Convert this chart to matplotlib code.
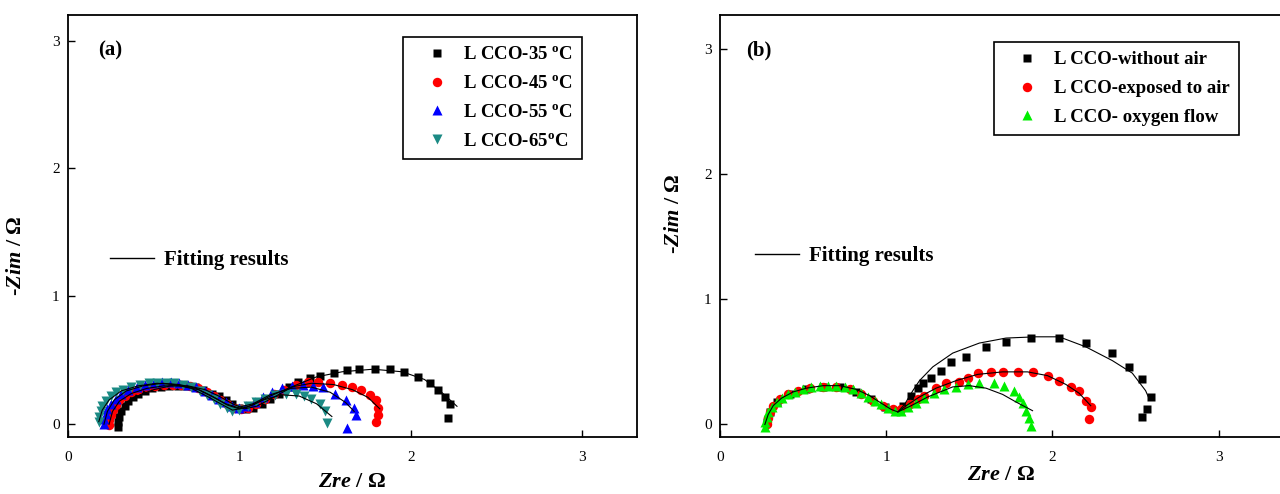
import matplotlib
matplotlib.use("Agg")
import matplotlib.pyplot as plt
from matplotlib.lines import Line2D

plt.rcParams['font.family'] = ['Liberation Serif', 'DejaVu Serif']
plt.rcParams['mathtext.fontset'] = 'custom'
plt.rcParams['mathtext.rm'] = 'Liberation Serif'
plt.rcParams['mathtext.bf'] = 'Liberation Serif:bold'
plt.rcParams['mathtext.it'] = 'Liberation Serif:italic'
plt.rcParams['mathtext.bfit'] = 'Liberation Serif:italic:bold'

# ---------------- panel (a): temperature ----------------
a35_re = [0.29, 0.29, 0.30, 0.31, 0.33, 0.35, 0.38, 0.41, 0.45, 0.49, 0.54, 0.59, 0.64, 0.69, 0.74, 0.79, 0.84,
          0.88, 0.92, 0.96, 1.00, 1.04, 1.08, 1.13, 1.18, 1.23, 1.29, 1.34, 1.41, 1.47, 1.55, 1.63, 1.70, 1.79,
          1.88, 1.96, 2.04, 2.11, 2.16, 2.20, 2.23, 2.22]
a35_im = [-0.02, 0.02, 0.06, 0.10, 0.14, 0.18, 0.21, 0.24, 0.26, 0.28, 0.29, 0.30, 0.30, 0.30, 0.29, 0.27, 0.24,
          0.22, 0.19, 0.16, 0.13, 0.12, 0.13, 0.16, 0.20, 0.24, 0.29, 0.33, 0.36, 0.38, 0.40, 0.42, 0.43, 0.43,
          0.43, 0.41, 0.37, 0.32, 0.27, 0.21, 0.16, 0.05]

a45_re = [0.24, 0.24, 0.25, 0.26, 0.28, 0.30, 0.33, 0.37, 0.41, 0.46, 0.51, 0.56, 0.61, 0.66, 0.71, 0.76, 0.81,
          0.85, 0.89, 0.93, 0.97, 1.01, 1.05, 1.10, 1.15, 1.20, 1.26, 1.33, 1.40, 1.46, 1.53, 1.60, 1.66, 1.71,
          1.76, 1.80, 1.81, 1.81, 1.80]
a45_im = [-0.01, 0.03, 0.07, 0.11, 0.15, 0.19, 0.22, 0.25, 0.27, 0.29, 0.30, 0.31, 0.31, 0.31, 0.30, 0.28, 0.25,
          0.22, 0.19, 0.16, 0.13, 0.12, 0.13, 0.16, 0.20, 0.24, 0.27, 0.31, 0.33, 0.33, 0.32, 0.31, 0.29, 0.27,
          0.23, 0.19, 0.13, 0.07, 0.02]

a55_re = [0.21, 0.21, 0.22, 0.23, 0.25, 0.28, 0.31, 0.35, 0.40, 0.45, 0.50, 0.55, 0.60, 0.65, 0.70, 0.75, 0.80,
          0.84, 0.88, 0.92, 0.96, 1.00, 1.04, 1.09, 1.14, 1.19, 1.25, 1.31, 1.37, 1.43, 1.49, 1.56, 1.62, 1.67,
          1.68, 1.63]
a55_im = [0.00, 0.04, 0.08, 0.12, 0.16, 0.20, 0.24, 0.27, 0.29, 0.31, 0.32, 0.33, 0.33, 0.32, 0.31, 0.29, 0.26,
          0.23, 0.20, 0.17, 0.14, 0.13, 0.14, 0.17, 0.21, 0.25, 0.28, 0.30, 0.31, 0.30, 0.29, 0.24, 0.19, 0.13,
          0.07, -0.03]

a65_re = [0.18, 0.18, 0.19, 0.20, 0.22, 0.25, 0.28, 0.32, 0.37, 0.42, 0.47, 0.52, 0.57, 0.62, 0.67, 0.72, 0.77,
          0.81, 0.85, 0.89, 0.93, 0.96, 1.00, 1.05, 1.10, 1.15, 1.21, 1.27, 1.33, 1.38, 1.42, 1.47, 1.50, 1.51]
a65_im = [0.02, 0.06, 0.10, 0.14, 0.18, 0.22, 0.25, 0.27, 0.29, 0.31, 0.32, 0.32, 0.32, 0.32, 0.31, 0.29, 0.26,
          0.23, 0.20, 0.16, 0.13, 0.10, 0.11, 0.14, 0.17, 0.20, 0.23, 0.24, 0.24, 0.22, 0.20, 0.16, 0.10, 0.01]

fa35_re = [0.29, 0.31, 0.35, 0.42, 0.50, 0.60, 0.70, 0.80, 0.88, 0.96, 1.03, 1.10, 1.20, 1.32, 1.45, 1.60, 1.78,
           1.95, 2.08, 2.18, 2.27]
fa35_im = [0.00, 0.09, 0.17, 0.23, 0.27, 0.30, 0.30, 0.27, 0.22, 0.16, 0.12, 0.14, 0.21, 0.30, 0.37, 0.41, 0.43,
           0.41, 0.35, 0.25, 0.14]
fa45_re = [0.24, 0.26, 0.30, 0.37, 0.46, 0.56, 0.66, 0.76, 0.85, 0.93, 1.00, 1.08, 1.18, 1.30, 1.42, 1.55, 1.66,
           1.75, 1.82]
fa45_im = [0.00, 0.10, 0.18, 0.24, 0.28, 0.30, 0.30, 0.27, 0.21, 0.15, 0.12, 0.15, 0.22, 0.29, 0.32, 0.31, 0.27,
           0.21, 0.12]
fa55_re = [0.21, 0.23, 0.27, 0.34, 0.44, 0.55, 0.65, 0.75, 0.84, 0.92, 0.99, 1.08, 1.18, 1.30, 1.42, 1.53, 1.62,
           1.67]
fa55_im = [0.00, 0.10, 0.19, 0.26, 0.30, 0.32, 0.31, 0.28, 0.22, 0.16, 0.13, 0.16, 0.23, 0.28, 0.29, 0.25, 0.17,
           0.10]
fa65_re = [0.18, 0.20, 0.24, 0.31, 0.41, 0.52, 0.62, 0.72, 0.81, 0.89, 0.96, 1.04, 1.14, 1.25, 1.35, 1.45, 1.54]
fa65_im = [0.02, 0.11, 0.19, 0.26, 0.30, 0.32, 0.31, 0.28, 0.22, 0.16, 0.11, 0.13, 0.19, 0.23, 0.22, 0.16, 0.06]

# ---------------- panel (b): atmosphere ----------------
b_air0_re = [0.28, 0.30, 0.34, 0.42, 0.52, 0.62, 0.72, 0.82, 0.91, 0.99, 1.06, 1.10, 1.15, 1.19, 1.22, 1.27, 1.33,
             1.39, 1.48, 1.60, 1.72, 1.87, 2.04, 2.20, 2.36, 2.46, 2.54, 2.59, 2.57, 2.54]
b_air0_im = [0.02, 0.10, 0.18, 0.24, 0.28, 0.30, 0.30, 0.26, 0.20, 0.14, 0.11, 0.15, 0.23, 0.29, 0.33, 0.37, 0.43,
             0.50, 0.54, 0.62, 0.66, 0.69, 0.69, 0.65, 0.57, 0.46, 0.36, 0.22, 0.12, 0.06]

b_air_re = [0.28, 0.29, 0.30, 0.32, 0.36, 0.41, 0.47, 0.54, 0.62, 0.70, 0.78, 0.85, 0.92, 0.98, 1.04, 1.09, 1.14,
            1.19, 1.23, 1.30, 1.36, 1.44, 1.49, 1.55, 1.63, 1.70, 1.79, 1.88, 1.97, 2.04, 2.11, 2.16, 2.20, 2.23,
            2.22]
b_air_im = [0.00, 0.05, 0.10, 0.15, 0.20, 0.24, 0.27, 0.29, 0.30, 0.30, 0.28, 0.24, 0.19, 0.15, 0.12, 0.12, 0.16,
            0.20, 0.23, 0.29, 0.33, 0.34, 0.37, 0.41, 0.42, 0.42, 0.42, 0.42, 0.39, 0.35, 0.30, 0.27, 0.19, 0.14,
            0.04]

b_o2_re = [0.27, 0.27, 0.28, 0.29, 0.31, 0.34, 0.37, 0.41, 0.45, 0.50, 0.55, 0.60, 0.65, 0.70, 0.75, 0.80, 0.85,
           0.89, 0.93, 0.97, 1.01, 1.05, 1.09, 1.13, 1.18, 1.23, 1.29, 1.35, 1.42, 1.49, 1.56, 1.65, 1.71, 1.77,
           1.80, 1.82, 1.84, 1.86, 1.87]
b_o2_im = [-0.02, 0.02, 0.06, 0.10, 0.14, 0.18, 0.21, 0.24, 0.26, 0.28, 0.30, 0.31, 0.31, 0.31, 0.30, 0.28, 0.25,
           0.22, 0.19, 0.16, 0.13, 0.11, 0.11, 0.14, 0.17, 0.21, 0.25, 0.28, 0.30, 0.32, 0.33, 0.33, 0.31, 0.27,
           0.22, 0.17, 0.11, 0.05, -0.01]

fb_air0_re = [0.27, 0.29, 0.32, 0.37, 0.44, 0.52, 0.62, 0.72, 0.82, 0.90, 0.97, 1.03, 1.07, 1.11, 1.16, 1.20, 1.28,
              1.40, 1.56, 1.72, 1.90, 2.04, 2.20, 2.36, 2.48, 2.56, 2.58]
fb_air0_im = [0.00, 0.08, 0.15, 0.21, 0.26, 0.29, 0.31, 0.31, 0.28, 0.23, 0.17, 0.12, 0.10, 0.16, 0.27, 0.35, 0.46,
              0.57, 0.65, 0.69, 0.70, 0.70, 0.62, 0.51, 0.41, 0.27, 0.21]
fb_air_re = [1.07, 1.12, 1.20, 1.30, 1.42, 1.55, 1.70, 1.85, 1.97, 2.08, 2.16, 2.23]
fb_air_im = [0.10, 0.15, 0.22, 0.29, 0.35, 0.40, 0.42, 0.42, 0.39, 0.32, 0.25, 0.15]
fb_o2_re = [1.07, 1.15, 1.25, 1.40, 1.50, 1.60, 1.70, 1.78, 1.88]
fb_o2_im = [0.10, 0.15, 0.22, 0.30, 0.31, 0.29, 0.24, 0.18, 0.11]

ticks = [0, 1, 2, 3]
teal = '#1b8a84'

fig = plt.figure(figsize=(12.8, 4.94), dpi=100)
axa = fig.add_axes([0.0531, 0.1154, 0.4445, 0.8543])
axb = fig.add_axes([0.5625, 0.1154, 0.4390, 0.8543])

ms = 6.3
axa.plot(a35_re, a35_im, 's', color='black', ms=ms, mec='none', label=r'L CCO-35 $^{\mathbf{o}}$C')
axa.plot(a45_re, a45_im, 'o', color='red', ms=ms + 0.5, mec='none', label=r'L CCO-45 $^{\mathbf{o}}$C')
axa.plot(a55_re, a55_im, '^', color='blue', ms=ms + 1, mec='none', label=r'L CCO-55 $^{\mathbf{o}}$C')
axa.plot(a65_re, a65_im, 'v', color=teal, ms=ms + 1, mec='none', label=r'L CCO-65$^{\mathbf{o}}$C')
axa.plot(fa35_re, fa35_im, '-', color='black', lw=0.8)
axa.plot(fa45_re, fa45_im, '-', color='black', lw=0.8)
axa.plot(fa55_re, fa55_im, '-', color='black', lw=0.8)
axa.plot(fa65_re, fa65_im, '-', color='black', lw=0.8)

axb.plot(b_air0_re, b_air0_im, 's', color='black', ms=ms, mec='none', label='L CCO-without air')
axb.plot(b_air_re, b_air_im, 'o', color='red', ms=ms + 0.5, mec='none', label='L CCO-exposed to air')
axb.plot(b_o2_re, b_o2_im, '^', color='#00ee00', ms=ms + 1, mec='none', label='L CCO- oxygen flow')
axb.plot(fb_air0_re, fb_air0_im, '-', color='black', lw=0.8)
axb.plot(fb_air_re, fb_air_im, '-', color='black', lw=0.8)
axb.plot(fb_o2_re, fb_o2_im, '-', color='black', lw=0.8)

setup = [
    (axa, 3.32, 3.20, '(a)', (0.074, 0.917), (-0.074, 0.43), (0.589, 0.948), (0.074, 0.419)),
    (axb, 3.38, 3.27, '(b)', (0.069, 0.917), (-0.064, 0.53), (0.487, 0.936), (0.062, 0.429)),
]
for ax, xmax, ymax, tag, tagpos, ylpos, legpos, fitpos in setup:
    ax.set_xlim(0, xmax)
    ax.set_ylim(-0.10, ymax)
    ax.set_xticks(ticks)
    ax.set_yticks(ticks)
    ax.tick_params(direction='in', length=5, width=1, labelsize=11, top=False, right=False)
    ax.tick_params(axis='x', pad=10)
    ax.tick_params(axis='y', pad=6)
    for sp in ax.spines.values():
        sp.set_linewidth(1.3)
    ax.set_xlabel(r'$\mathbfit{Zre}$ / $\mathbf{\Omega}$', fontsize=16, fontweight='bold')
    ax.set_ylabel(r'-$\mathbfit{Zim}$ / $\mathbf{\Omega}$', fontsize=16, fontweight='bold')
    ax.yaxis.set_label_coords(*ylpos)
    ax.text(tagpos[0], tagpos[1], tag, transform=ax.transAxes, ha='center', va='center',
            fontsize=15, fontweight='bold')
    leg = ax.legend(loc='upper left', bbox_to_anchor=legpos, borderaxespad=0, fancybox=False,
                    edgecolor='black', framealpha=1, handlelength=2.6, handletextpad=0.1,
                    borderpad=0.5, labelspacing=0.62, prop={'size': 13.5, 'weight': 'bold'})
    leg.get_frame().set_linewidth(1.2)
    ax.add_artist(leg)
    ax.legend(handles=[Line2D([], [], color='black', lw=1)], labels=['Fitting results'],
              loc='center left', bbox_to_anchor=fitpos, frameon=False, borderaxespad=0,
              borderpad=0, handlelength=2.1, handletextpad=0.5, prop={'size': 15, 'weight': 'bold'})

axa.xaxis.labelpad = 6
axb.xaxis.labelpad = 1

fig.savefig('out.png', dpi=100)
